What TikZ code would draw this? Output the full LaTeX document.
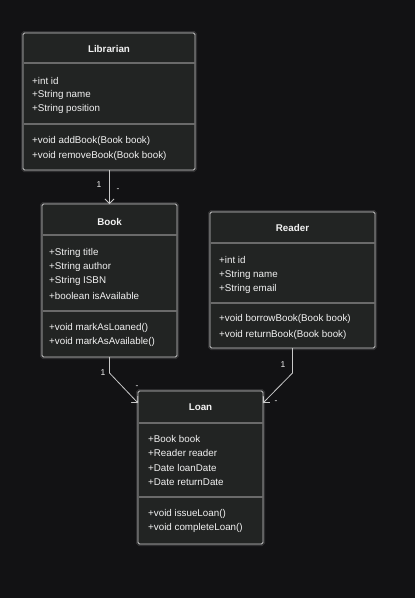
\documentclass[tikz,border=0pt]{standalone}
\usepackage{fontspec}
\setmainfont{Liberation Sans}
\usetikzlibrary{arrows.meta}
\definecolor{bg}{HTML}{121214}
\definecolor{boxfill}{HTML}{222423}
\definecolor{boxline}{HTML}{C8C8C8}
\definecolor{sepline}{HTML}{6A6A6A}
\definecolor{txt}{HTML}{F2F2F2}
\begin{document}
\begin{tikzpicture}[x=1pt,y=-1pt,
  umlbox/.style={draw=boxline, fill=boxfill, line width=0.9pt, rounded corners=1.5pt,
    preaction={draw=white, draw opacity=0.12, line width=4pt},
    anchor=north west, inner sep=0pt, outer sep=0pt},
  sepl/.style={draw=sepline, line width=1.6pt},
  attr/.style={anchor=west, text=txt, font=\fontsize{9.8}{11}\selectfont, inner sep=0pt},
  ttl/.style={text=txt, font=\bfseries\fontsize{9.8}{11}\selectfont, inner sep=0pt},
  mult/.style={text=txt, font=\fontsize{8.5}{9}\selectfont, inner sep=0pt},
  assoc/.style={draw=boxline, line width=0.8pt, -{Straight Barb[length=4.5pt,width=9pt]}}
]
\fill[bg] (0,0) rectangle (415,598);
\useasboundingbox (0,0) rectangle (415,598);

% Librarian
\node[umlbox, minimum width=172pt, minimum height=137pt] (lib) at (23,33) {};
\draw[sepl] (23.5,63) -- (194.5,63);
\draw[sepl] (23.5,124) -- (194.5,124);
\node[ttl] (libt) at (109,49) {Librarian};
\node[attr] (lib1) at (32,81) {+int id};
\node[attr] (lib2) at (32,95) {+String name};
\node[attr] (lib3) at (32,109) {+String position};
\node[attr] (lib4) at (32,141) {+void addBook(Book book)};
\node[attr] (lib5) at (32,156) {+void removeBook(Book book)};

% Book
\node[umlbox, minimum width=135pt, minimum height=153pt] (book) at (42,204) {};
\draw[sepl] (42.5,235) -- (176.5,235);
\draw[sepl] (42.5,311) -- (176.5,311);
\node[ttl] (bookt) at (109.5,222) {Book};
\node[attr] (book1) at (49,253) {+String title};
\node[attr] (book2) at (49,267) {+String author};
\node[attr] (book3) at (49,281) {+String ISBN};
\node[attr] (book4) at (49,296) {+boolean isAvailable};
\node[attr] (book5) at (49,328) {+void markAsLoaned()};
\node[attr] (book6) at (49,342) {+void markAsAvailable()};

% Reader
\node[umlbox, minimum width=165pt, minimum height=136pt] (reader) at (210,212) {};
\draw[sepl] (210.5,243) -- (374.5,243);
\draw[sepl] (210.5,303) -- (374.5,303);
\node[ttl] (readert) at (292.5,228) {Reader};
\node[attr] (reader1) at (219,260) {+int id};
\node[attr] (reader2) at (219,275) {+String name};
\node[attr] (reader3) at (219,289) {+String email};
\node[attr] (reader4) at (219,319) {+void borrowBook(Book book)};
\node[attr] (reader5) at (219,335) {+void returnBook(Book book)};

% Loan
\node[umlbox, minimum width=125pt, minimum height=153pt] (loan) at (138,391) {};
\draw[sepl] (138.5,423) -- (262.5,423);
\draw[sepl] (138.5,497) -- (262.5,497);
\node[ttl] (loant) at (200.5,407) {Loan};
\node[attr] (loan1) at (148,439) {+Book book};
\node[attr] (loan2) at (148,453) {+Reader reader};
\node[attr] (loan3) at (148,468) {+Date loanDate};
\node[attr] (loan4) at (148,482) {+Date returnDate};
\node[attr] (loan5) at (148,514) {+void issueLoan()};
\node[attr] (loan6) at (148,528) {+void completeLoan()};

% connectors
\coordinate (bookin) at ([yshift=-12pt]loan.north west);
\coordinate (readin) at ([yshift=-12pt]loan.north east);
\draw[assoc] (lib.south -| book.north) -- (book.north);
\draw[assoc] (book.south) -- ++(0,16) -- (bookin);
\draw[assoc] (reader.south) -- ++(0,25) -- (readin);

% multiplicities
\node[mult] (m1) at (99,185) {1};
\node[mult] (m2) at (118,190) {-};
\node[mult] (m3) at (103,373) {1};
\node[mult] (m4) at (137,387) {-};
\node[mult] (m5) at (283,365) {1};
\node[mult] (m6) at (276,402) {-};
\end{tikzpicture}
\end{document}
